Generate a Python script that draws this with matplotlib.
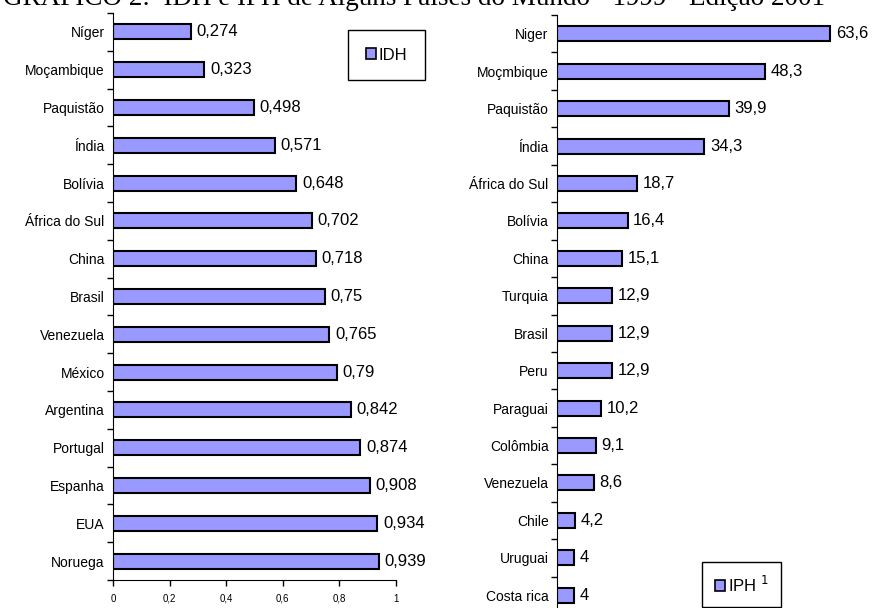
import matplotlib
matplotlib.use('Agg')
import matplotlib.pyplot as plt
from matplotlib.patches import Patch

plt.rcParams['font.family'] = ['Liberation Sans', 'DejaVu Sans']

# IDH (left panel)
idh_paises = ['Níger', 'Moçambique', 'Paquistão', 'Índia', 'Bolívia', 'África do Sul',
              'China', 'Brasil', 'Venezuela', 'México', 'Argentina', 'Portugal',
              'Espanha', 'EUA', 'Noruega']
idh_valores = [0.274, 0.323, 0.498, 0.571, 0.648, 0.702, 0.718, 0.75, 0.765,
               0.79, 0.842, 0.874, 0.908, 0.934, 0.939]
idh_rotulos = ['0,274', '0,323', '0,498', '0,571', '0,648', '0,702', '0,718', '0,75',
               '0,765', '0,79', '0,842', '0,874', '0,908', '0,934', '0,939']
idh_xticks = [0, 0.2, 0.4, 0.6, 0.8, 1]
idh_xticklabels = ['0', '0,2', '0,4', '0,6', '0,8', '1']

# IPH (right panel)
iph_paises = ['Niger', 'Moçmbique', 'Paquistão', 'Índia', 'África do Sul', 'Bolívia',
              'China', 'Turquia', 'Brasil', 'Peru', 'Paraguai', 'Colômbia',
              'Venezuela', 'Chile', 'Uruguai', 'Costa rica']
iph_valores = [63.6, 48.3, 39.9, 34.3, 18.7, 16.4, 15.1, 12.9, 12.9, 12.9, 10.2,
               9.1, 8.6, 4.2, 4, 4]
iph_rotulos = ['63,6', '48,3', '39,9', '34,3', '18,7', '16,4', '15,1', '12,9', '12,9',
               '12,9', '10,2', '9,1', '8,6', '4,2', '4', '4']

cor_barra = '#9999FF'
W, H = 872, 608
fig = plt.figure(figsize=(W / 100, H / 100), dpi=100)

# title, mostly cut at the top of the image (as in the original)
fig.text(414 / W, 1 - 5 / H, 'GRÁFICO 2:  IDH e IPH de Alguns Países do Mundo - 1999 - Edição 2001',
         ha='center', va='baseline', fontsize=19.5, family=['Liberation Serif'])

# --- painel esquerdo ---
ax1 = fig.add_axes([113 / W, 1 - 580 / H, (396 - 113) / W, (580 - 13) / H])
n1 = len(idh_paises)
pos1 = list(range(n1))
ax1.barh(pos1, idh_valores, height=0.4, color=cor_barra, edgecolor='black', linewidth=1.5)
for p, v, r in zip(pos1, idh_valores, idh_rotulos):
    ax1.annotate(r, (v, p), xytext=(4, 0), textcoords='offset points',
                 va='center', ha='left', fontsize=12)
ax1.set_ylim(n1 - 0.5, -0.5)
ax1.set_xlim(0, 1)
ax1.set_yticks(pos1)
ax1.set_yticklabels(idh_paises, fontsize=10)
ax1.set_yticks([p + 0.5 for p in range(-1, n1)], minor=True)
ax1.tick_params(axis='y', which='major', length=0, pad=6)
ax1.tick_params(axis='y', which='minor', length=4, direction='out', width=1)
ax1.set_xticks(idh_xticks)
ax1.set_xticklabels(idh_xticklabels, fontsize=7)
ax1.tick_params(axis='x', length=4, direction='out', width=1, pad=6)
for s in ['top', 'right']:
    ax1.spines[s].set_visible(False)
ax1.legend(handles=[Patch(facecolor=cor_barra, edgecolor='black', linewidth=1.2, label='IDH')],
           loc='upper left', bbox_to_anchor=((348 - 113) / (396 - 113), 1 - (30 - 13) / (580 - 13)),
           fancybox=False, edgecolor='black', framealpha=1, fontsize=12,
           handlelength=0.6, handleheight=0.6, handletextpad=0.2,
           borderpad=1.05, borderaxespad=0)

# --- painel direito ---
escala = 4.3
xmax2 = (865 - 557) / escala
ax2 = fig.add_axes([557 / W, 1 - 614 / H, (865 - 557) / W, (614 - 15) / H])
n2 = len(iph_paises)
pos2 = list(range(n2))
ax2.barh(pos2, iph_valores, height=0.4, color=cor_barra, edgecolor='black', linewidth=1.5)
for p, v, r in zip(pos2, iph_valores, iph_rotulos):
    ax2.annotate(r, (v, p), xytext=(4, 0), textcoords='offset points',
                 va='center', ha='left', fontsize=12)
ax2.set_ylim(n2 - 0.5, -0.5)
ax2.set_xlim(0, xmax2)
ax2.set_yticks(pos2)
ax2.set_yticklabels(iph_paises, fontsize=10)
ax2.set_yticks([p + 0.5 for p in range(-1, n2)], minor=True)
ax2.tick_params(axis='y', which='major', length=0, pad=6)
ax2.tick_params(axis='y', which='minor', length=4, direction='out', width=1)
ax2.set_xticks([])
for s in ['top', 'right', 'bottom']:
    ax2.spines[s].set_visible(False)
ax2.legend(handles=[Patch(facecolor=cor_barra, edgecolor='black', linewidth=1.2, label=r'IPH $^{1}$')],
           loc='upper left', bbox_to_anchor=((702 - 557) / (865 - 557), 1 - (562 - 15) / (614 - 15)),
           fancybox=False, edgecolor='black', framealpha=1, fontsize=12,
           handlelength=0.6, handleheight=0.6, handletextpad=0.2,
           borderpad=0.75, borderaxespad=0)

fig.savefig('out.png', dpi=100)
